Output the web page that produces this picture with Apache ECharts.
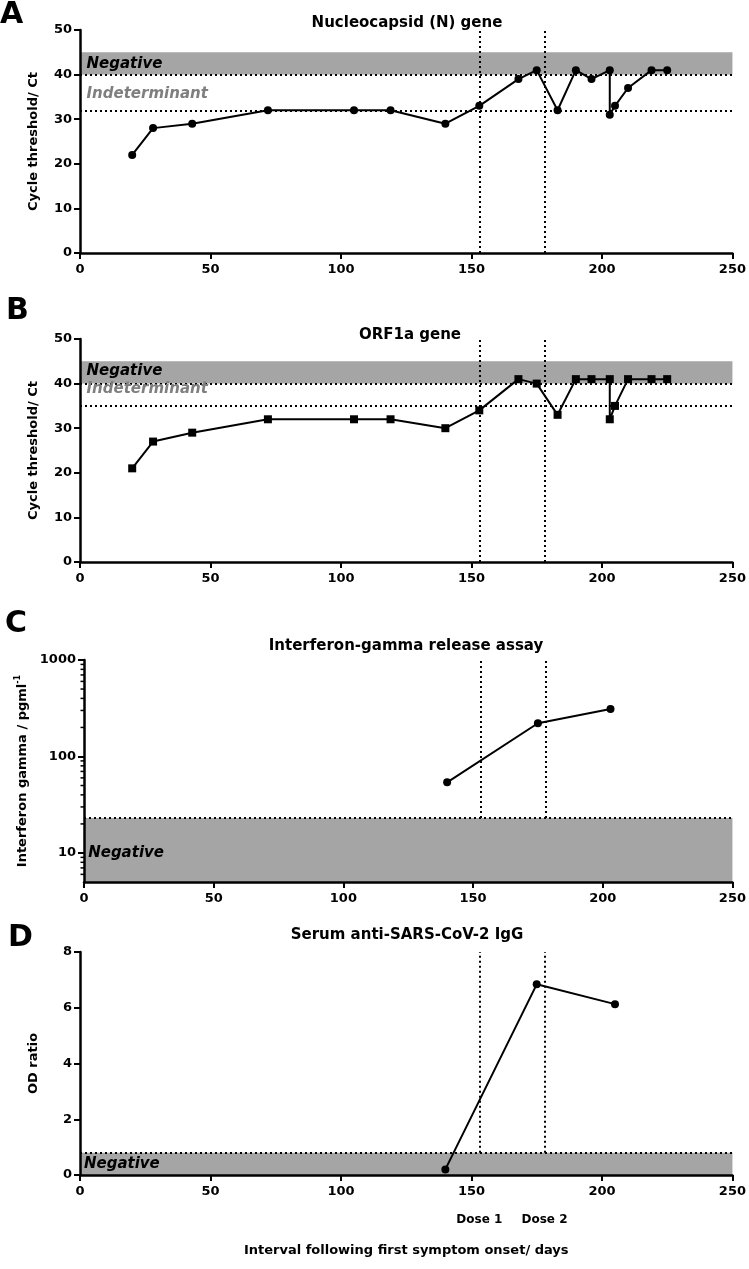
<!DOCTYPE html>
<html><head><meta charset="utf-8">
<script src="https://cdn.jsdelivr.net/npm/echarts@6/dist/echarts.min.js"></script>
<style>html,body{margin:0;padding:0;background:#fff}#c{width:749px;height:1269px}</style>
</head><body><div id="c"></div>
<script>
// ---------- data ----------
const nDays   = [20,28,43,72,105,119,140,153,168,175,183,190,196,203,203,205,210,219,225];
const nCt     = [22,28,29,32,32,32,29,33,39,41,32,41,39,41,31,33,37,41,41];
const orfDays = [20,28,43,72,105,119,140,153,168,175,183,190,196,203,203,205,210,219,225];
const orfCt   = [21,27,29,32,32,32,30,34,41,40,33,41,41,41,32,35,41,41,41];
const igraDays = [140,175,203];
const igraVals = [54,221,310];
const iggDays = [140,175,205];
const iggVals = [0.2,6.84,6.13];
const doseDays = [153,178];
const doseLabels = ['Dose 1','Dose 2'];
const ctNegCut = 40, ctBandTop = 45;
const nIndCut = 32, orfIndCut = 35;
const igraCut = 23, igraMin = 5, igraMax = 1000;
const iggCut = 0.8;
const igraMinorTicks = [6,7,8,9,20,30,40,50,60,70,80,90,200,300,400,500,600,700,800,900];
const panelTitles = ['Nucleocapsid (N) gene','ORF1a gene','Interferon-gamma release assay','Serum anti-SARS-CoV-2 IgG'];
const panelLetters = ['A','B','C','D'];

// ---------- style ----------
const F = 'DejaVu Sans';
const BAND = '#a5a5a5';
const DOT = {type:[2,3], color:'#000', width:2};
const zip = (a,b) => a.map((v,i)=>[v,b[i]]);

const grids = [
  {left:80, top:30,  width:654, height:223},
  {left:80, top:339, width:654, height:223},
  {left:84, top:660, width:654, height:222},
  {left:80, top:952, width:656, height:223}
];

function xAx(i){
  return {type:'value', gridIndex:i, min:0, max:250, interval:50, z:10,
    axisLine:{show:true, lineStyle:{color:'#000', width:2.5}},
    axisTick:{show:true, length:6, lineStyle:{color:'#000', width:2}},
    axisLabel:{color:'#000', fontFamily:F, fontWeight:'bold', fontSize:13, margin:10},
    splitLine:{show:false}};
}
function yAx(i, extra){
  return Object.assign({type:'value', gridIndex:i, z:10,
    axisLine:{show:true, onZero:false, lineStyle:{color:'#000', width:2.5}},
    axisTick:{show:true, length:6, lineStyle:{color:'#000', width:2}},
    axisLabel:{color:'#000', fontFamily:F, fontWeight:'bold', fontSize:13, margin:8},
    splitLine:{show:false},
    nameLocation:'middle', nameGap:40,
    nameTextStyle:{color:'#000', fontFamily:F, fontWeight:'bold', fontSize:13}}, extra);
}

function txt(coord, text, color){
  return {coord:coord, symbol:'circle', symbolSize:0,
    label:{show:true, position:'right', distance:0, formatter:text,
      color:color||'#000', fontFamily:F, fontWeight:'bold', fontStyle:'italic', fontSize:15}};
}

function ctSeries(i, days, vals, indCut, symbol, negY, indY){
  return {type:'line', xAxisIndex:i, yAxisIndex:i, data:zip(days, vals),
    symbol:symbol, symbolSize:8, showAllSymbol:true,
    lineStyle:{color:'#000', width:2}, itemStyle:{color:'#000'},
    animation:false, z:5,
    markArea:{silent:true, itemStyle:{color:BAND}, label:{show:false},
      data:[[{yAxis:ctNegCut},{yAxis:ctBandTop}]]},
    markLine:{silent:true, symbol:'none', label:{show:false}, lineStyle:DOT,
      data:[{yAxis:ctNegCut},{yAxis:indCut}].concat(doseDays.map(d=>({xAxis:d})))},
    markPoint:{silent:true, data:[txt([2.5,negY],'Negative'), txt([2.5,indY],'Indeterminant','#7f7f7f')]}
  };
}

const option = {
  animation:false,
  backgroundColor:'#fff',
  grid: grids,
  xAxis: [0,1,2,3].map(i=>{
    const a = xAx(i);
    if(i===3){
      a.name = 'Interval following first symptom onset/ days';
      a.nameLocation = 'middle'; a.nameGap = 69;
      a.nameTextStyle = {color:'#000', fontFamily:F, fontWeight:'bold', fontSize:13};
    }
    return a;
  }),
  yAxis: [
    yAx(0,{min:0,max:50,interval:10,name:'Cycle threshold/ Ct'}),
    yAx(1,{min:0,max:50,interval:10,name:'Cycle threshold/ Ct'}),
    yAx(2,{type:'log', logBase:10, min:igraMin, max:igraMax, nameGap:41,
      name:'{a|Interferon gamma / pgml}{s|-1}',
      nameTextStyle:{color:'#000', fontFamily:F, fontWeight:'bold', fontSize:13,
        rich:{a:{fontFamily:F, fontWeight:'bold', fontSize:13, color:'#000', lineHeight:16},
              s:{fontFamily:F, fontWeight:'bold', fontSize:8, color:'#000', verticalAlign:'top', lineHeight:16}}},
      axisLabel:{color:'#000', fontFamily:F, fontWeight:'bold', fontSize:13, margin:8, showMinLabel:false,
        formatter:v=>String(Math.round(v))}}),
    yAx(3,{min:0,max:8,interval:2,name:'OD ratio'})
  ],
  graphic: {elements: panelTitles.map((t,i)=>({type:'text', silent:true,
      x:[407,410,406,407][i], y:[23.5,335,646,935.5][i],
      style:{text:t, fill:'#000', font:'bold 15px "DejaVu Sans"', textAlign:'center', textVerticalAlign:'middle'}}))
    .concat(panelLetters.map((t,i)=>({type:'text', silent:true,
      x:[0,6,5,8][i], y:[15,311,624,938][i],
      style:{text:t, fill:'#000', font:'bold 30px "DejaVu Sans"', textAlign:'left', textVerticalAlign:'middle'}})))},
  series: [
    ctSeries(0, nDays, nCt, nIndCut, 'circle', 42.4, 35.6),
    ctSeries(1, orfDays, orfCt, orfIndCut, 'rect', 42.7, 38.7),
    {type:'line', xAxisIndex:2, yAxisIndex:2, data:zip(igraDays, igraVals),
      symbol:'circle', symbolSize:8, lineStyle:{color:'#000', width:2}, itemStyle:{color:'#000'}, z:5,
      markArea:{silent:true, itemStyle:{color:BAND}, label:{show:false},
        data:[[{yAxis:igraMin},{yAxis:igraCut}]]},
      markLine:{silent:true, symbol:'none', label:{show:false}, lineStyle:DOT,
        data:[{yAxis:igraCut}].concat(doseDays.map(d=>[{coord:[d,igraCut]},{coord:[d,igraMax]}]))},
      markPoint:{silent:true, data:[txt([1.6,10],'Negative')]}
    },
    {type:'custom', xAxisIndex:2, yAxisIndex:2, silent:true, clip:false, z:11,
      data: igraMinorTicks.map(v=>[0,v]),
      renderItem:(params, api)=>{
        const p = api.coord([0, api.value(1)]);
        return {type:'line', shape:{x1:p[0]-3.5, y1:p[1], x2:p[0], y2:p[1]}, style:{stroke:'#000', lineWidth:1.5}};
      }},
    {type:'line', xAxisIndex:3, yAxisIndex:3, data:zip(iggDays, iggVals),
      symbol:'circle', symbolSize:8, lineStyle:{color:'#000', width:2}, itemStyle:{color:'#000'}, z:5,
      markArea:{silent:true, itemStyle:{color:BAND}, label:{show:false},
        data:[[{yAxis:0},{yAxis:iggCut}]]},
      markLine:{silent:true, symbol:'none', label:{show:false}, lineStyle:DOT,
        data:[{yAxis:iggCut}].concat(doseDays.map(d=>[{coord:[d,iggCut]},{coord:[d,8]}]))},
      markPoint:{silent:true, data:[txt([1.5,0.39],'Negative')].concat(doseDays.map((d,k)=>({
        coord:[d,0], symbol:'circle', symbolSize:0,
        label:{show:true, position:'inside', offset:[0,45], formatter:doseLabels[k],
          color:'#000', fontFamily:F, fontWeight:'bold', fontSize:12}})))}
    }
  ]
};
const chart = echarts.init(document.getElementById('c'), null, {renderer:'canvas'});
chart.setOption(option);
</script>
</body></html>
